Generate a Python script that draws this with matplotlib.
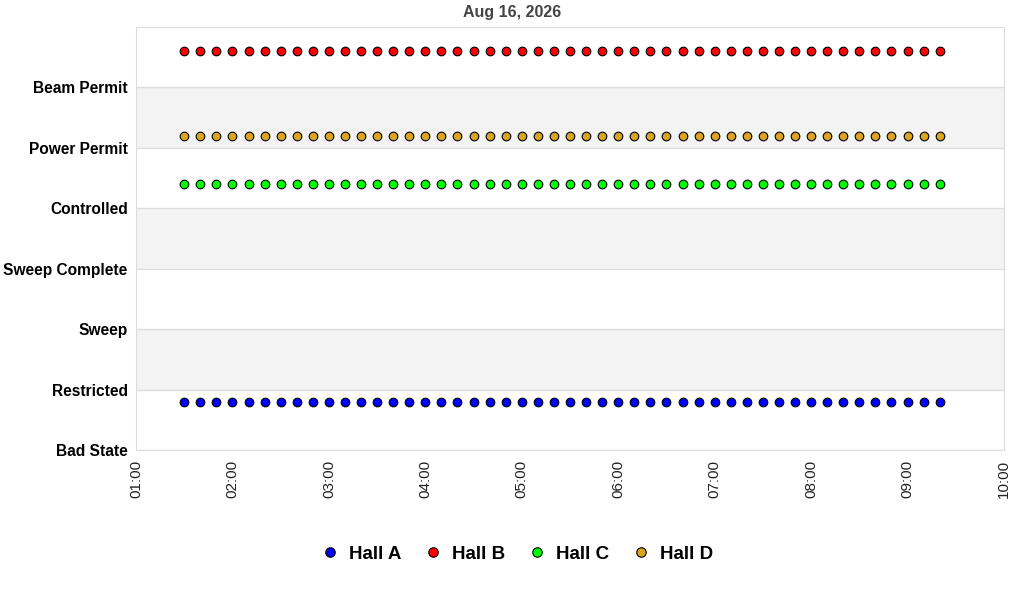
import matplotlib
matplotlib.use('Agg')
import matplotlib.pyplot as plt
import matplotlib.dates as mdates
import pandas as pd

plt.rcParams['font.family'] = ['Liberation Sans', 'DejaVu Sans']

states = ['Bad State', 'Restricted', 'Sweep', 'Sweep Complete', 'Controlled', 'Power Permit', 'Beam Permit']

# samples every 10 minutes
times = pd.date_range('2026-08-16 01:30', '2026-08-16 09:20', freq='10min')
hall_a = [0.8] * len(times)
hall_b = [6.6] * len(times)
hall_c = [4.4] * len(times)
hall_d = [5.2] * len(times)

series = [('Hall A', hall_a, '#0000ff'),
          ('Hall B', hall_b, '#ff0000'),
          ('Hall C', hall_c, '#00ff00'),
          ('Hall D', hall_d, '#daa520')]

fig = plt.figure(figsize=(10.24, 6), dpi=100)
ax = fig.add_axes([136/1024, 1 - 450/600, (1004 - 136)/1024, (450 - 27)/600])

# alternating bands
for i in range(len(states)):
    if i % 2 == 1:
        ax.axhspan(i, i + 1, color='#f3f3f3', zorder=0, lw=0)
    ax.axhline(i, color='#dddddd', lw=1, zorder=1)

for name, vals, col in series:
    ax.plot(times, vals, 'o', color=col, markeredgecolor='black', markeredgewidth=0.8,
            markersize=6.2, label=name, zorder=3)

ax.set_ylim(0, 7)
ax.set_yticks(range(len(states)))
ax.set_yticklabels(states, fontsize=11.2, fontweight='bold')
ax.set_xlim(pd.Timestamp('2026-08-16 01:00'), pd.Timestamp('2026-08-16 10:00'))
ax.xaxis.set_major_locator(mdates.HourLocator())
ax.xaxis.set_major_formatter(mdates.DateFormatter('%H:%M'))
plt.setp(ax.get_xticklabels(), rotation=90, fontsize=11, color='#222222')
ax.tick_params(axis='y', length=0, pad=6)
ax.tick_params(axis='x', length=0, pad=7)
for s in ax.spines.values():
    s.set_color('#dddddd')

fig.text(512/1024, 1 - 13/600, 'Aug 16, 2026', ha='center', va='center',
         fontsize=11.5, fontweight='bold', color='#444444')

fig.legend(loc='center', bbox_to_anchor=(516/1024, 1 - 554/600), ncol=4, frameon=False,
           prop={'size': 13.5, 'weight': 'bold'}, handletextpad=0.4, columnspacing=1.1,
           handlelength=1.2, markerscale=1.1)

fig.savefig('out.png', dpi=100)
